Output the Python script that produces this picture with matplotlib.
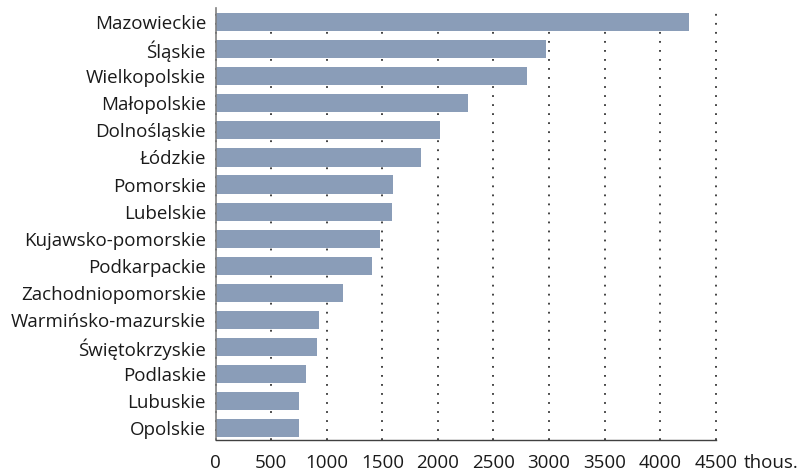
import matplotlib.pyplot as plt

# Data (thousands)
regions = ['Mazowieckie', 'Śląskie', 'Wielkopolskie', 'Małopolskie', 'Dolnośląskie',
           'Łódzkie', 'Pomorskie', 'Lubelskie', 'Kujawsko-pomorskie', 'Podkarpackie',
           'Zachodniopomorskie', 'Warmińsko-mazurskie', 'Świętokrzyskie', 'Podlaskie',
           'Lubuskie', 'Opolskie']
values = [4260, 2970, 2800, 2275, 2020, 1850, 1600, 1590, 1480, 1410,
          1145, 930, 910, 810, 750, 750]
xticks = [0, 500, 1000, 1500, 2000, 2500, 3000, 3500, 4000, 4500]

plt.rcParams['font.family'] = ['Open Sans', 'DejaVu Sans']
fs = 13.5

fig = plt.figure(figsize=(8.05, 4.71), dpi=100)
ax = fig.add_axes([0.268, 0.0658, 0.621, 0.917])

ypos = list(range(len(regions)))
ax.barh(ypos, values, height=0.67, color='#8a9db8', zorder=2)

ax.set_yticks(ypos)
ax.set_yticklabels(regions, fontsize=fs, color='#1a1a1a')
ax.set_ylim(15.44, -0.52)

ax.set_xlim(0, 4500)
ax.set_xticks(xticks)
ax.set_xticklabels([str(t) for t in xticks], fontsize=fs, color='#1a1a1a')
ax.tick_params(axis='both', length=0)
ax.tick_params(axis='x', pad=10)
ax.tick_params(axis='y', pad=7)

ax.annotate('thous.', xy=(4500, 0), xycoords=('data', 'axes fraction'),
            xytext=(20, -10), textcoords='offset points',
            ha='left', va='top', fontsize=fs, color='#1a1a1a')

ax.set_axisbelow(True)
ax.grid(axis='x', color='#333333', linestyle=(0, (1, 4)), linewidth=1.3)
ax.grid(axis='y', visible=False)
for gl in ax.get_xgridlines():
    gl.set_clip_on(False)

for s in ['top', 'right']:
    ax.spines[s].set_visible(False)
ax.spines['left'].set_color('#808080')
ax.spines['bottom'].set_color('#404040')
ax.spines['left'].set_linewidth(1.2)
ax.spines['bottom'].set_linewidth(1.0)

plt.savefig('out.png', dpi=100)
